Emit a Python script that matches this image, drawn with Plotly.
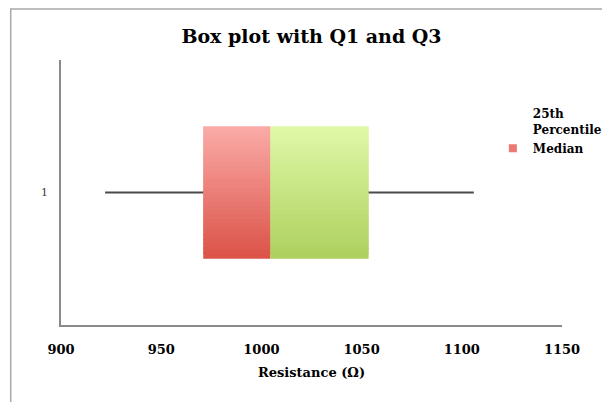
import plotly.graph_objects as go

# Data
categories = [1]
minimum = [922]
q1 = [971]
median = [1004.5]
q3 = [1053.5]
maximum = [1106]
series_names = ["<b>25th<br>Percentile</b>", "<b>Median</b>"]
x_ticks = [900, 950, 1000, 1050, 1100, 1150]

SERIF = "DejaVu Serif"
fig = go.Figure()

cat = categories[0]
box_w = 0.5
N = 30

def lerp(c1, c2, t):
    return "rgb(%d,%d,%d)" % tuple(round(a + (b - a) * t) for a, b in zip(c1, c2))

red_top, red_bot = (250, 170, 166), (220, 83, 72)
grn_top, grn_bot = (223, 248, 168), (174, 208, 94)

# whiskers (drawn from data)
fig.add_trace(go.Scatter(
    x=[minimum[0], q1[0], None, q3[0], maximum[0]], y=[cat, cat, None, cat, cat],
    mode="lines", line=dict(color="#4a4a4a", width=2.2), showlegend=False, hoverinfo="skip"))

# invisible 25th percentile series (legend only)
fig.add_trace(go.Scatter(
    x=[None], y=[None], mode="markers", marker=dict(color="rgba(0,0,0,0)", size=8, symbol="square"),
    name=series_names[0], showlegend=True))

# gradient bands for median (red) and upper (green) segments
band = box_w / N
for i in range(N):
    t = i / (N - 1)
    off = -box_w / 2 + i * band
    w = band if i == N - 1 else band * 1.8
    fig.add_trace(go.Bar(
        y=[cat], x=[median[0] - q1[0]], base=[q1[0]], orientation="h",
        width=w, offset=off, marker=dict(color=lerp(red_bot, red_top, t), line=dict(width=0)),
        showlegend=False, hoverinfo="skip"))
    fig.add_trace(go.Bar(
        y=[cat], x=[q3[0] - median[0]], base=[median[0]], orientation="h",
        width=w, offset=off, marker=dict(color=lerp(grn_bot, grn_top, t), line=dict(width=0)),
        showlegend=False, hoverinfo="skip"))

# legend entry for median
fig.add_trace(go.Scatter(
    x=[None], y=[None], mode="markers", name=series_names[1],
    marker=dict(color="rgb(236,120,112)", size=8, symbol="square"), showlegend=True))

fig.update_layout(
    width=602, height=394,
    margin=dict(l=53, r=48, t=52, b=77, autoexpand=False),
    paper_bgcolor="white", plot_bgcolor="white",
    barmode="overlay",
    title=dict(text="<b>Box plot with Q1 and Q3</b>", x=0.5, xref="paper", y=0.929, yanchor="middle",
               font=dict(family=SERIF, size=19, color="black")),
    showlegend=True,
    legend=dict(x=0.862, y=0.851, xanchor="left", yanchor="top",
                font=dict(family=SERIF, size=12, color="black"), traceorder="normal",
                bgcolor="rgba(0,0,0,0)", itemwidth=30, tracegroupgap=0),
    xaxis=dict(range=[x_ticks[0], x_ticks[-1]], tickvals=x_ticks,
               ticktext=["<b>%d</b>" % v for v in x_ticks], showgrid=False, zeroline=False,
               showline=True, linecolor="#8a8a8a", linewidth=1.5, ticks="", ticklabelstandoff=12,
               tickfont=dict(family=SERIF, size=13, color="black"),
               title=dict(text="<b>Resistance (Ω)</b>", font=dict(family=SERIF, size=13, color="black"), standoff=12)),
    yaxis=dict(range=[0.5, 1.5], tickvals=[1], ticktext=["1"], showgrid=False, zeroline=False,
               showline=True, linecolor="#8a8a8a", linewidth=1.5, ticks="", ticklabelstandoff=9,
               tickfont=dict(family=SERIF, size=11, color="#404040")),
    shapes=[dict(type="path", xref="paper", yref="paper",
                 path="M -0.1004,-0.32 L -0.1004,1.192 L 1.2,1.192",
                 line=dict(color="#a8a8a8", width=1.5))],
)

fig.write_html("out.html")
